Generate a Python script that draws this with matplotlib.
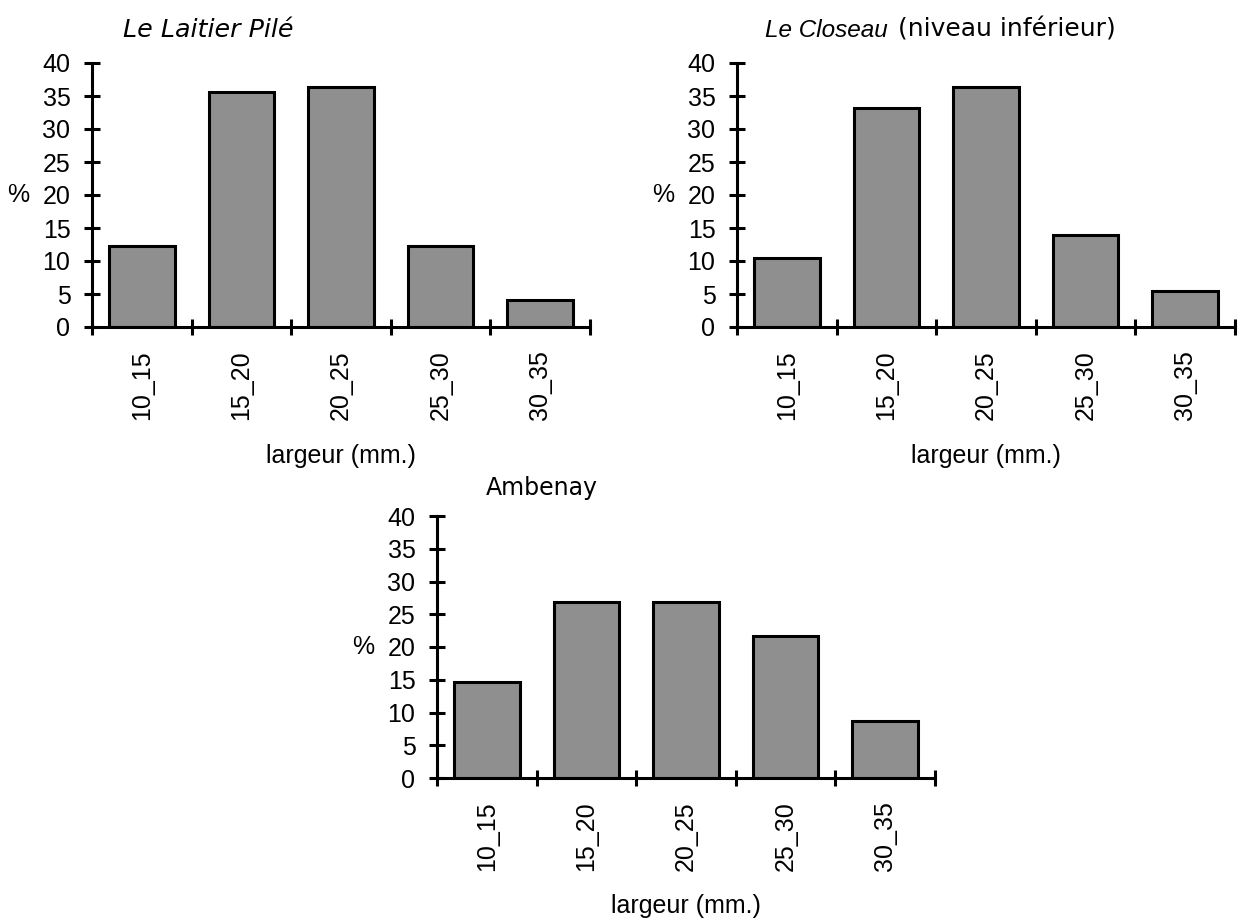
import matplotlib
matplotlib.use("Agg")
import matplotlib.pyplot as plt
import numpy as np

categories = ["10_15", "15_20", "20_25", "25_30", "30_35"]
laitier = [12.2, 35.6, 36.3, 12.2, 4.1]
closeau = [10.4, 33.2, 36.3, 14.0, 5.5]
ambenay = [14.7, 26.9, 26.9, 21.7, 8.7]
yticks = [0, 5, 10, 15, 20, 25, 30, 35, 40]

W, H = 1248, 919
plt.rcParams['font.family'] = ['Liberation Sans', 'DejaVu Sans']
fig = plt.figure(figsize=(W / 100, H / 100), dpi=100)

FS = 18
LW = 2.2
BAR_COLOR = "#8f8f8f"

def px_axes(x0, y0, x1, y1):
    return fig.add_axes([x0 / W, 1 - y1 / H, (x1 - x0) / W, (y1 - y0) / H])

def draw(ax, vals):
    x = np.arange(len(categories))
    ax.bar(x, vals, width=0.66, color=BAR_COLOR, edgecolor="black", linewidth=LW, zorder=2)
    ax.set_xlim(-0.5, len(categories) - 0.5)
    ax.set_ylim(0, 40)
    for s in ("top", "right"):
        ax.spines[s].set_visible(False)
    for s in ("left", "bottom"):
        ax.spines[s].set_linewidth(LW)
        ax.spines[s].set_zorder(3)
    ax.set_yticks(yticks)
    ax.set_yticklabels([str(v) for v in yticks], fontsize=FS)
    ax.tick_params(axis="y", direction="inout", length=12, width=LW, pad=9.5)
    ax.set_xticks(np.arange(-0.5, len(categories), 1.0))
    ax.set_xticklabels([])
    ax.tick_params(axis="x", which="major", direction="inout", length=12, width=LW)
    ax.set_xticks(x, minor=True)
    ax.set_xticklabels(categories, minor=True, rotation=90, fontsize=FS)
    ax.tick_params(axis="x", which="minor", length=0, pad=17)
    ax.set_ylabel("%", rotation=0, fontsize=FS, ha="center", va="center")
    ax.yaxis.set_label_coords(-74 / 498, 0.5)
    ax.set_xlabel("largeur (mm.)", fontsize=FS, va="center")
    ax.xaxis.set_label_coords(0.5, -0.49)

ax1 = px_axes(92, 63, 590, 327)
draw(ax1, laitier)
ax2 = px_axes(737, 63, 1235, 327)
draw(ax2, closeau)
ax3 = px_axes(437, 516, 935, 778)
draw(ax3, ambenay)

fig.text(123 / W, 1 - 37 / H, "Le Laitier Pilé", fontsize=18.3, style="italic",
         family=['DejaVu Sans'], ha="left", va="baseline")
fig.text(765 / W, 1 - 37 / H, "Le Closeau", fontsize=17.5, style="italic",
         family=['Liberation Sans'], ha="left", va="baseline")
fig.text(898 / W, 1 - 37 / H, "(niveau inférieur)", fontsize=18,
         family=['DejaVu Sans'], ha="left", va="baseline")
fig.text(542 / W, 1 - 495 / H, "Ambenay", fontsize=17, family=['DejaVu Sans'],
         ha="center", va="baseline")

fig.savefig("out.png", dpi=100)
